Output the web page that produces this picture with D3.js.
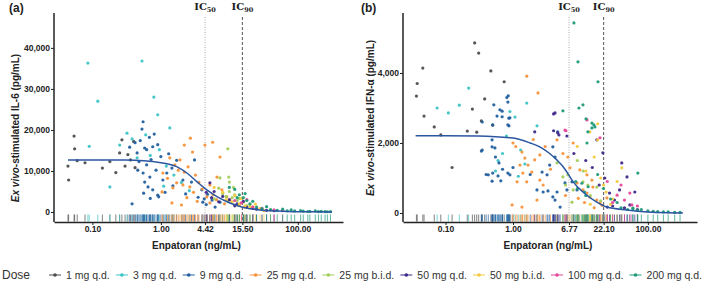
<!DOCTYPE html>
<html>
<head>
<meta charset="utf-8">
<script src="https://cdn.jsdelivr.net/npm/d3@7"></script>
<style>
  body { margin: 0; background: #fff; }
  svg { font-family: "Liberation Sans", Arial, sans-serif; display: block; }
</style>
</head>
<body>
<svg id="chart" width="709" height="283"></svg>
<script>
// dose groups, same order in the legend and in the point lists below
const doses = ["1 mg q.d.", "3 mg q.d.", "9 mg q.d.", "25 mg q.d.", "25 mg b.i.d.",
  "50 mg q.d.", "50 mg b.i.d.", "100 mg q.d.", "200 mg q.d."];
const doseColors = ["#4d4d4d", "#3cc4c6", "#22609f", "#f5923a", "#a2cd5b",
  "#40298a", "#f4c93e", "#e6489a", "#1d9a78"];

// panel (a): [concentration ng/mL, IL-6 pg/mL], one list per dose
const il6Points = [
  [[0.054,18500],[0.055,15400],[0.044,11200],[0.045,7800],[0.078,12000],[0.14,10700],[0.25,14400],
   [0.27,17600],[0.30,11200],[0.33,14000],[0.36,12700],[0.22,9600],[0.18,12300],[0.42,10800],[0.40,17200],[0.06,12500]],
  [[0.086,36300],[0.12,27000],[0.53,36800],[0.79,28000],[0.9,23700],[1.35,20500],[0.32,19200],[0.09,16000],
   [0.18,6100],[0.25,16300],[0.7,13800],[1.2,11200],[1.55,9000],[0.95,15200],[2.0,7200],[0.6,18800],
   [0.45,13200],[1.1,6300],[2.6,5200],[0.38,17800]],
  [[0.53,20200],[0.55,22000],[0.58,15600],[0.62,15200],[0.76,15900],[0.9,16400],[0.42,16900],[0.45,14400],
   [0.55,9500],[0.69,8500],[0.58,7300],[0.65,6100],[0.76,5400],[0.9,4100],[0.93,3700],[0.38,2000],
   [1.07,7800],[1.22,9500],[1.45,10700],[2.1,7800],[2.8,7300],[3.1,12700],[3.96,5400],[4.1,2400],
   [0.48,12300],[0.62,11500],[0.72,12800],[0.85,10200],[1.0,13500],[0.35,15800],[0.5,17400],[0.68,18200],
   [1.3,14200],[1.7,12600],[0.8,19000],[0.46,10200],[0.56,4600],[0.7,3300],[1.15,4800],[1.5,6400],
   [2.3,4400],[3.5,3600],[4.8,4300],[5.6,2900],[6.2,1200],[7.3,2400],[4.3,3200],[4.6,1800]],
  [[1.07,9500],[1.6,11500],[1.8,10200],[2.2,9700],[2.5,11000],[2.1,6600],[1.7,7100],[1.5,5900],
   [1.04,4900],[1.45,2200],[2.0,1700],[2.65,6100],[3.2,9000],[4.4,16300],[7.3,13400],[6.6,8500],
   [5.2,6600],[7.8,5400],[9.2,3700],[10.2,2900],[12,1700],[14,1700],[16.8,1200],[22,1200],
   [5.2,2200],[4.7,3700],[2.7,18000],[2.2,16300],[1.9,12700],[3.6,7200],[3.0,4800],[4.0,5600],
   [1.25,8200],[2.4,3500],[3.4,2600],[5.8,4200],[6.5,3000],[8.5,2000],[1.35,13200],[2.9,14600],[5.7,17000]],
  [[8,4500],[9,3800],[10,5000],[11,3500],[12,4200],[13,2800],[14,3300],[16,2400],[9.5,2600],
   [18,1500],[7,5800],[7.3,8300],[9.8,8500],[10,7300],[9.5,15400],[20,1800],[6,3200],[11.5,6000]],
  [[5.2,7100],[6,5000],[8,3800],[10,3000],[13,2000],[18,1200],[25,700],[35,400],[7,2500],
   [12,1500],[4.6,4800],[5.5,3500],[16,2600],[22,900],[45,300]],
  [[9,3000],[11,2500],[14,2000],[17,1500],[20,1200],[28,800],[40,500],[12,4000],[6,6000],
   [15,3300],[24,1900],[8,4800],[32,300]],
  [[15,2200],[22,1200],[30,900],[45,500],[60,300],[12,2800],[18,3000]],
  [[14,4200],[16,3500],[18,2800],[20,2000],[25,1200],[30,800],[40,600],[50,400],[70,300],[90,250],
   [120,200],[150,150],[200,100],[250,100],[300,80],[12,5500],[10,6000],[35,1300],[60,700],[80,500],
   [110,350],[140,120],[180,250],[220,150],[270,60],[17,4500],[13,3500],[22,2600]]
];

// panel (b): [concentration ng/mL, IFN-alpha pg/mL], one list per dose
const ifnPoints = [
  [[0.27,4860],[0.31,4570],[0.046,4140],[0.038,3700],[0.037,3340],[0.048,2770],[0.068,2460],[0.47,4060],
   [0.74,3750],[0.125,1300],[0.38,3260],[0.25,2970],[0.34,2630],[0.5,2510],[0.21,2340],[0.29,2310],[0.085,2230]],
  [[0.22,3570],[0.075,3000],[0.11,2860],[0.16,3080],[1.6,3140],[1.07,2740],[0.9,2900],[0.6,1500],
   [0.55,1200],[1.3,1800],[1.5,1400],[0.8,2200],[2.27,2490],[1.2,1050],[0.7,1700]],
  [[0.81,3300],[0.85,3350],[0.84,3170],[0.52,3090],[0.69,2910],[0.58,2770],[0.87,2710],[0.87,2490],
   [0.49,2090],[0.34,1770],[0.49,1890],[0.62,1430],[0.5,1140],[0.43,1090],[0.6,1060],[0.49,910],
   [0.66,920],[0.84,1140],[0.55,1600],[0.7,1250],[0.35,1800],[0.54,1860],[0.9,1090],[0.84,2520],
   [0.69,2750],[0.5,2520],[0.35,2600],[0.9,2720],[0.64,2950],[2.27,660],[2.8,600],[3.3,630],
   [3.9,460],[4.5,600],[6.3,660],[5.9,860],[7.5,890],[8.9,660],[4.2,370],[5.0,170],
   [2.7,1170],[3.2,1090],[3.5,1370],[4.2,1600],[3.9,1890],[4.6,2320],[1.0,1300],[1.8,1100],[0.4,1100]],
  [[1.0,2000],[1.36,1740],[1.5,1570],[1.27,1370],[1.67,1370],[1.4,1140],[1.9,1170],[2.1,1520],
   [2.5,1660],[1.6,890],[1.15,890],[0.97,230],[1.36,170],[2.27,370],[2.5,940],[2.8,800],
   [4.5,2090],[7.8,2000],[6.5,1600],[7.0,1290],[8.9,860],[10.9,660],[12.5,570],[13.8,460],
   [17.5,370],[19.5,290],[15.3,740],[24.7,430],[9.8,1230],[12.5,1090],[14.8,940],[1.6,3910],
   [2.35,3430],[3.0,1900],[3.6,1250],[5.5,1700],[1.1,1900],[2.0,2100],[11.5,300],[16,150],
   [6.0,500],[9.3,420],[21,220]],
  [[5.5,1030],[6.5,1090],[7.8,660],[10.9,890],[12.9,800],[7.5,310],[17.5,740],[4.5,1430],
   [9,1500],[11,1200],[14,500],[6,800],[20,350]],
  [[4.0,2830],[2.1,2320],[4.0,2350],[4.6,2290],[4.8,2230],[6.3,2200],[4.2,2860],[17.5,2090],
   [21.5,1720],[41,1430],[49,1030],[38,660],[27,570],[32,370],[25,170],[64,600],[54,230],
   [12,1500],[8,1700],[15,1300],[19,800],[23,1000],[30,200],[45,150],[70,100]],
  [[18,2550],[13.8,2320],[18,2090],[41,1290],[16,1600],[20,1000],[24,600],[30,400],[22,800],
   [12,1200],[28,250],[9,1900],[35,900],[14,250]],
  [[6.1,2350],[5.9,2370],[12.5,2660],[35,510],[45,370],[58,230],[54,570],[19.5,2150],[25,900],
   [30,300],[70,200],[40,800]],
  [[8.0,5430],[9.2,4320],[18.2,3750],[9.5,3000],[10.9,3090],[12.1,2690],[14.8,2430],[15.8,2520],
   [5.5,2920],[14.8,2570],[16.4,2460],[12.9,2320],[12.5,2000],[71,1140],[60,140],[9,700],
   [10.5,850],[11.5,600],[13,750],[12,500],[8.5,900],[40,150],[50,100],[60,120],[70,80],
   [80,100],[100,60],[120,50],[140,40],[170,30],[200,30],[250,20],[300,20],[18,1100],[22,700],
   [28,400],[35,300]]
];

// fitted curves
const il6CurveConc  = [0.044, 0.1, 0.3, 1, 1.7, 2.4, 3.35, 4.7, 6.6, 10.2, 15.7, 28, 69, 150, 316];
const il6CurveValue = [12700, 12700, 12650, 12030, 11050, 9500, 7400, 5370, 3740, 2200, 1150, 490, 150, 60, 30];
const ifnCurveConc  = [0.036, 0.1, 0.3, 1, 1.8, 2.5, 3.5, 4.5, 5.5, 6.3, 7.8, 10.9, 17.5, 24.7, 49, 100, 200, 330];
const ifnCurveValue = [2210, 2210, 2200, 2140, 2000, 1890, 1700, 1510, 1330, 1170, 890, 600, 310, 170, 86, 30, 8, 3];

// ticks and reference lines
const il6XTicks = [0.1, 1, 4.42, 15.5, 100];
const il6XTickLabels = ["0.10", "1.00", "4.42", "15.50", "100.00"];
const ifnXTicks = [0.1, 1, 6.77, 22.1, 100];
const ifnXTickLabels = ["0.10", "1.00", "6.77", "22.10", "100.00"];
const il6YTicks = [0, 10000, 20000, 30000, 40000];
const ifnYTicks = [0, 2000, 4000];
const il6IC = [4.42, 15.5];
const ifnIC = [6.77, 22.1];
const icNames = ["50", "90"];

const svg = d3.select("#chart");
const axisY = 222;

function drawPanel(cfg) {
  const x = d3.scaleLog().domain(cfg.xDomain).range([cfg.left, cfg.right]);
  const y = d3.scaleLinear().domain([0, cfg.yMax]).range([cfg.zeroY, 13]);
  const g = svg.append("g");

  // IC50 / IC90 reference lines
  cfg.ic.forEach((v, i) => {
    g.append("line")
      .attr("x1", x(v)).attr("x2", x(v))
      .attr("y1", 17).attr("y2", axisY)
      .attr("stroke", i === 0 ? "#aaa" : "#555")
      .attr("stroke-width", 1)
      .attr("stroke-dasharray", i === 0 ? "1,1.5" : "3,2");
    const t = g.append("text")
      .attr("x", x(v)).attr("y", 9.5)
      .attr("text-anchor", "middle")
      .style("font-family", "'DejaVu Serif', serif")
      .style("font-weight", "bold")
      .style("font-size", "10px")
      .attr("fill", "#222");
    t.append("tspan").text("IC");
    t.append("tspan").attr("dy", 2.5).style("font-size", "6.5px").text(icNames[i]);
  });

  const flat = [];
  cfg.points.forEach((list, d) => list.forEach(p => flat.push({ c: p[0], v: p[1], d })));

  // rug along the x axis
  g.append("g").selectAll("line").data(flat).join("line")
    .attr("x1", p => x(p.c)).attr("x2", p => x(p.c))
    .attr("y1", axisY - 7.5).attr("y2", axisY - 0.5)
    .attr("stroke", p => doseColors[p.d])
    .attr("stroke-opacity", 0.7)
    .attr("stroke-width", 1);

  // observations
  g.append("g").selectAll("circle").data(flat).join("circle")
    .attr("cx", p => x(p.c)).attr("cy", p => y(p.v))
    .attr("r", 1.6)
    .attr("fill", p => doseColors[p.d])
    .attr("fill-opacity", 0.95);

  // fitted curve
  const curve = cfg.curveConc.map((c, i) => [c, cfg.curveValue[i]]);
  g.append("path")
    .datum(curve)
    .attr("d", d3.line().x(d => x(d[0])).y(d => y(d[1])).curve(d3.curveMonotoneX))
    .attr("fill", "none")
    .attr("stroke", "#2b56a0")
    .attr("stroke-width", 1.5);

  // axes
  const xAxis = g.append("g")
    .attr("transform", `translate(0,${axisY})`)
    .call(d3.axisBottom(x).tickValues(cfg.xTicks)
      .tickFormat((d, i) => cfg.xTickLabels[i])
      .tickSize(3).tickSizeOuter(0).tickPadding(1));
  const yAxis = g.append("g")
    .attr("transform", `translate(${cfg.left},0)`)
    .call(d3.axisLeft(y).tickValues(cfg.yTicks)
      .tickFormat(d3.format(","))
      .tickSize(3).tickSizeOuter(0).tickPadding(1));
  yAxis.select(".domain").remove();
  g.append("line")
    .attr("x1", cfg.left).attr("x2", cfg.left)
    .attr("y1", 13).attr("y2", axisY)
    .attr("stroke", "#222").attr("stroke-width", 1.5);

  [xAxis, yAxis].forEach(a => {
    a.select(".domain").attr("stroke", "#222").attr("stroke-width", 1.5);
    a.selectAll(".tick line").attr("stroke", "#222");
    a.selectAll(".tick text")
      .style("font-family", "'Liberation Sans', Arial, sans-serif")
      .style("font-size", "8.5px")
      .style("font-weight", "bold")
      .attr("fill", "#222");
  });

  // titles
  g.append("text")
    .attr("x", (cfg.left + cfg.right) / 2 - 2).attr("y", 249)
    .attr("text-anchor", "middle")
    .style("font-size", "10px").style("font-weight", "bold").attr("fill", "#222")
    .text("Enpatoran (ng/mL)");

  const yt = g.append("text")
    .attr("transform", `translate(${cfg.yTitleX},${cfg.yTitleY}) rotate(-90)`)
    .attr("text-anchor", "middle")
    .style("font-size", "10px").style("font-weight", "bold").attr("fill", "#222");
  yt.append("tspan").style("font-style", "italic").text("Ex vivo");
  yt.append("tspan").text(cfg.yTitle);

  g.append("text")
    .attr("x", cfg.tagX).attr("y", 12)
    .style("font-size", "12px").style("font-weight", "bold").attr("fill", "#222")
    .text(cfg.tag);
}

drawPanel({
  tag: "(a)", tagX: 9,
  left: 54, right: 343, xDomain: [0.0275, 457],
  yMax: 48500, zeroY: 212,
  xTicks: il6XTicks, xTickLabels: il6XTickLabels, yTicks: il6YTicks,
  ic: il6IC, points: il6Points,
  curveConc: il6CurveConc, curveValue: il6CurveValue,
  yTitle: "-stimulated IL-6 (pg/mL)", yTitleX: 19, yTitleY: 128
});

drawPanel({
  tag: "(b)", tagX: 361,
  left: 403, right: 697, xDomain: [0.0234, 535],
  yMax: 5714, zeroY: 213,
  xTicks: ifnXTicks, xTickLabels: ifnXTickLabels, yTicks: ifnYTicks,
  ic: ifnIC, points: ifnPoints,
  curveConc: ifnCurveConc, curveValue: ifnCurveValue,
  yTitle: "-stimulated IFN-\u03b1 (pg/mL)", yTitleX: 374, yTitleY: 118
});

// legend
const legend = svg.append("g");
legend.append("text")
  .attr("x", 2).attr("y", 279)
  .style("font-size", "12px").attr("fill", "#333")
  .text("Dose");

const items = doses.map((name, i) => {
  const it = legend.append("g");
  it.append("line").attr("x1", 0).attr("x2", 12).attr("y1", 275).attr("y2", 275)
    .attr("stroke", doseColors[i]).attr("stroke-width", 1);
  it.append("circle").attr("cx", 6).attr("cy", 275).attr("r", 1.8).attr("fill", doseColors[i]);
  const t = it.append("text").attr("x", 17).attr("y", 278.5)
    .style("font-size", "10.5px").attr("fill", "#333").text(name);
  return { it, w: 17 + t.node().getComputedTextLength() };
});
const legStart = 49, legEnd = 702;
const gap = (legEnd - legStart - d3.sum(items, d => d.w)) / (items.length - 1);
let cursor = legStart;
items.forEach(d => {
  d.it.attr("transform", `translate(${cursor},0)`);
  cursor += d.w + gap;
});
</script>
</body>
</html>
